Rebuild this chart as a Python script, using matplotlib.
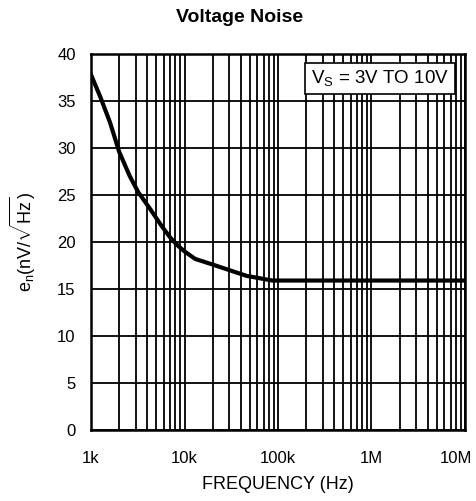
import numpy as np
import matplotlib
matplotlib.use("Agg")
import matplotlib.pyplot as plt
import matplotlib.transforms as mtransforms

plt.rcParams['font.family'] = ['Liberation Sans', 'DejaVu Sans']
plt.rcParams['mathtext.fontset'] = 'custom'
plt.rcParams['mathtext.rm'] = 'Liberation Sans'
plt.rcParams['mathtext.it'] = 'Liberation Sans'

freq = [1e3, 1.25e3, 1.6e3, 2e3, 2.6e3, 3.2e3, 4.3e3, 5.7e3, 7e3, 8.3e3,
        10e3, 13e3, 20e3, 46e3, 87e3, 1e5, 1e6, 1e7]
noise = [37.8, 35.5, 32.7, 29.6, 27.0, 25.3, 23.5, 21.7, 20.5, 19.7,
         19.0, 18.2, 17.6, 16.4, 15.9, 15.9, 15.9, 15.9]
xticks = [1e3, 1e4, 1e5, 1e6, 1e7]
xlabels = ['1k', '10k', '100k', '1M', '10M']
yticks = [0, 5, 10, 15, 20, 25, 30, 35, 40]

fig = plt.figure(figsize=(4.77, 5.01), dpi=100)
ax = fig.add_axes([91/477, 71/501, 374/477, 376/501])

ax.set_xscale('log')
ax.set_xlim(1e3, 1e7)
ax.set_ylim(0, 40)

ax.set_xticks(xticks)
ax.set_xticklabels(xlabels)
ax.set_yticks(yticks)
ax.tick_params(which='both', length=0, labelsize=12)
ax.tick_params(axis='x', pad=15)
ax.tick_params(axis='y', pad=11)
ax.grid(True, which='both', axis='x', color='black', lw=1.3)
ax.grid(True, which='major', axis='y', color='black', lw=1.3)
for s in ax.spines.values():
    s.set_linewidth(1.8)

# last label sits a bit left so it stays inside the figure
last = ax.get_xticklabels()[-1]
last.set_transform(last.get_transform() +
                   mtransforms.ScaledTranslation(-9/100, 0, fig.dpi_scale_trans))

ax.plot(freq, noise, color='black', lw=3)

ax.text(0.957, 0.962, r'V$_\mathregular{S}$ = 3V TO 10V', transform=ax.transAxes,
        ha='right', va='top', fontsize=13.5,
        bbox=dict(facecolor='white', edgecolor='black', lw=1.2, pad=4))

fig.text(0.503, 1 - 17/501, 'Voltage Noise', ha='center', va='center',
         fontsize=14, fontweight='bold')
ax.set_xlabel('FREQUENCY (Hz)', fontsize=13, labelpad=7)
ax.set_ylabel(r'e$_\mathregular{n}$(nV/$\sqrt{\mathregular{Hz}}$)', fontsize=13, labelpad=14)

fig.savefig('out.png', dpi=100)
